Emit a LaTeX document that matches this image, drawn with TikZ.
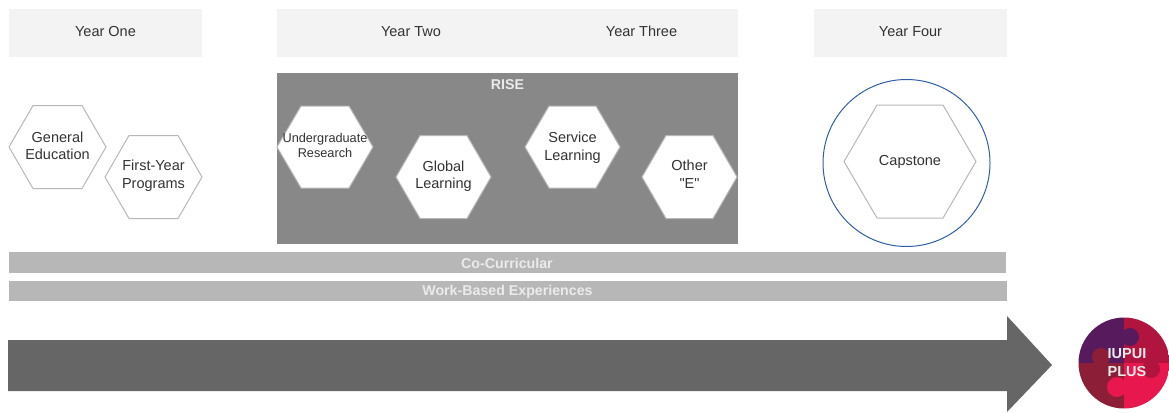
\documentclass[tikz,border=0pt]{standalone}
\usepackage{fontspec}
\setmainfont{Liberation Sans}
\newfontfamily\straightq{Liberation Sans}
\definecolor{yearbg}{HTML}{F3F3F3}
\definecolor{risebg}{HTML}{888888}
\definecolor{barbg}{HTML}{B7B7B7}
\definecolor{arrowbg}{HTML}{666666}
\definecolor{hexline}{HTML}{B7B7B7}
\definecolor{txt}{HTML}{333333}
\definecolor{ringblue}{HTML}{2F5FA8}
\definecolor{qpurple}{HTML}{571A5C}
\definecolor{qred}{HTML}{B0143F}
\definecolor{qdark}{HTML}{8C1E38}
\definecolor{qpink}{HTML}{E8174D}
\tikzset{
  yearbox/.style={fill=yearbg,draw=none},
  yearlabel/.style={text=txt,anchor=base,font=\fontsize{14.5}{16}\selectfont,inner sep=0pt},
  hexshape/.style={draw=hexline,line width=1pt,fill=white,line join=miter},
  hexlabel/.style={text=txt,align=center,font=\fontsize{14.5}{17.5}\selectfont,inner sep=0pt},
  smalllabel/.style={text=txt,align=center,font=\fontsize{12.7}{15}\selectfont,inner sep=0pt},
  barlabel/.style={text=white!92!black,font=\bfseries\fontsize{14.2}{16}\selectfont,inner sep=0pt},
  logolabel/.style={text=white!92!black,align=center,font=\bfseries\fontsize{14.5}{18}\selectfont,inner sep=0pt}
}
\newcommand{\hexa}[9]{%
  \path[hexshape] (#2-#4,#3) -- (#2-#4+#6,#3-#5) -- (#2+#4-#6,#3-#5) -- (#2+#4,#3) -- (#2+#4-#6,#3+#5) -- (#2-#4+#6,#3+#5) -- cycle;
  \node[#7] (#1) at (#2,#3+#8) {#9};
}
\begin{document}
\begin{tikzpicture}[x=1pt,y=-1pt]
\useasboundingbox (0,0) rectangle (1169,412);
% year headers
\fill[yearbox] (9,9) rectangle (202,57);
\fill[yearbox] (277,9) rectangle (738,57);
\fill[yearbox] (814,9) rectangle (1007,57);
\node[yearlabel] (y1) at (105.5,36.5) {Year One};
\node[yearlabel] (y2) at (411,36.5) {Year Two};
\node[yearlabel] (y3) at (641.5,36.5) {Year Three};
\node[yearlabel] (y4) at (910.5,36.5) {Year Four};
% RISE
\fill[risebg] (277,73) rectangle (738,244);
\node[barlabel] (rise) at (507.5,84.5) {RISE};
% hexagons
\hexa{gen}{57.5}{147}{48.5}{41.5}{24}{hexlabel}{-1}{General\\Education}
\hexa{fy}{153.5}{177}{48.5}{41.5}{24}{hexlabel}{-1.5}{First-Year\\Programs}
\hexa{ur}{325}{147}{48}{41}{24}{smalllabel}{-1.5}{Undergraduate\\Research}
\hexa{gl}{443.5}{177}{47.5}{41.5}{24}{hexlabel}{-1}{Global\\Learning}
\hexa{sl}{572.5}{147}{47.5}{41}{24}{hexlabel}{0.5}{Service\\Learning}
\hexa{oe}{689.5}{177}{47.5}{41.5}{24}{hexlabel}{-3}{Other\\{\straightq "E"}}
\hexa{cap}{910}{161.5}{66}{56.5}{33}{hexlabel}{0}{Capstone}
\node[circle,draw=ringblue,line width=1pt,minimum size=167pt,inner sep=0pt] (ring) at (906.5,163) {};
% bars
\fill[barbg] (9,252) rectangle (1006,273);
\node[barlabel] (co) at (507,263.5) {Co-Curricular};
\fill[barbg] (9,281) rectangle (1007,301);
\node[barlabel] (wb) at (507.5,291.5) {Work-Based Experiences};
% arrow
\fill[arrowbg] (8,340) -- (1007,340) -- (1007,316) -- (1052,365) -- (1007,412) -- (1007,391) -- (8,391) -- cycle;
% logo
\begin{scope}
\clip (1124,363) circle (45.5);
\fill[qpurple] (1078,317) rectangle (1124,363);
\fill[qred] (1124,317) rectangle (1170,363);
\fill[qdark] (1078,363) rectangle (1124,409);
\fill[qpink] (1124,363) rectangle (1170,409);
\fill[qpurple] (1130,337) circle (9);
\fill[qdark] (1101,357) circle (9);
\fill[qpink] (1117,387) circle (10);
\fill[qred] (1151,369) circle (9);
\end{scope}
\node[logolabel] (logo) at (1127,362.5) {IUPUI\\PLUS};
\end{tikzpicture}
\end{document}
